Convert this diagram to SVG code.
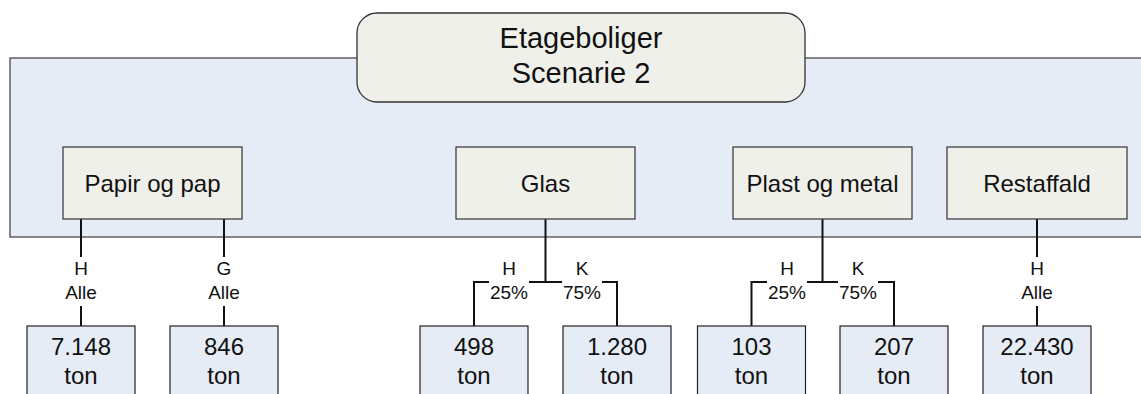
<svg xmlns="http://www.w3.org/2000/svg" width="1141" height="394" viewBox="0 0 1141 394">
<style>
text{font-family:"Liberation Sans",Arial,sans-serif;fill:#111;text-anchor:middle}
.cat{fill:#f0f0ea;stroke:#333;stroke-width:1.2}
.res{fill:#e6ecf6;stroke:#222;stroke-width:1.2}
.conn{fill:none;stroke:#111;stroke-width:2}
.lblbg{fill:#fff}
.t24{font-size:24px}
.t19{font-size:19px}
</style>
<rect width="1141" height="394" fill="#fff"/>
<g id="container">
<rect x="10" y="58" width="1140" height="179" fill="#e6ecf6" stroke="#555" stroke-width="1.4"/>
</g>
<g id="title">
<rect x="357" y="13" width="448" height="89" rx="20" ry="20" fill="#f0f0ea" stroke="#333" stroke-width="1.3"/>
<text x="581" y="48" font-size="29">Etageboliger</text>
<text x="581" y="83" font-size="29">Scenarie 2</text>
</g>
<g id="connectors">
<path class="conn" d="M81 219V326"/>
<path class="conn" d="M224 219V326"/>
<path class="conn" d="M545.5 219V282H474V326"/>
<path class="conn" d="M545.5 282H617V326"/>
<path class="conn" d="M822.5 219V282H751.5V326"/>
<path class="conn" d="M822.5 282H894V326"/>
<path class="conn" d="M1037 219V326"/>
</g>
<g id="papir">
<rect class="cat" x="63" y="147" width="179" height="72"/>
<text class="t24" x="152.5" y="192">Papir og pap</text>
</g>
<g id="glas">
<rect class="cat" x="456" y="147" width="179" height="72"/>
<text class="t24" x="545.5" y="192">Glas</text>
</g>
<g id="plast">
<rect class="cat" x="733" y="147" width="179" height="72"/>
<text class="t24" x="822.5" y="192">Plast og metal</text>
</g>
<g id="restaffald">
<rect class="cat" x="947" y="147" width="180" height="72"/>
<text class="t24" x="1037" y="192">Restaffald</text>
</g>
<g id="labels">
<rect class="lblbg" x="64" y="257" width="34" height="49"/>
<text class="t19" x="81" y="275">H</text><text class="t19" x="81" y="299">Alle</text>
<rect class="lblbg" x="207" y="257" width="34" height="49"/>
<text class="t19" x="224" y="275">G</text><text class="t19" x="224" y="299">Alle</text>
<rect class="lblbg" x="489" y="257" width="40" height="49"/>
<text class="t19" x="509" y="275">H</text><text class="t19" x="509" y="299">25%</text>
<rect class="lblbg" x="562" y="257" width="40" height="49"/>
<text class="t19" x="582" y="275">K</text><text class="t19" x="582" y="299">75%</text>
<rect class="lblbg" x="767" y="257" width="40" height="49"/>
<text class="t19" x="787" y="275">H</text><text class="t19" x="787" y="299">25%</text>
<rect class="lblbg" x="838" y="257" width="40" height="49"/>
<text class="t19" x="858" y="275">K</text><text class="t19" x="858" y="299">75%</text>
<rect class="lblbg" x="1020" y="257" width="34" height="49"/>
<text class="t19" x="1037" y="275">H</text><text class="t19" x="1037" y="299">Alle</text>
</g>
<g id="r1"><rect class="res" x="27" y="326" width="108" height="80"/><text class="t24" x="81" y="354.5">7.148</text><text class="t24" x="81" y="383.5">ton</text></g>
<g id="r2"><rect class="res" x="170" y="326" width="108" height="80"/><text class="t24" x="224" y="354.5">846</text><text class="t24" x="224" y="383.5">ton</text></g>
<g id="r3"><rect class="res" x="420" y="326" width="108" height="80"/><text class="t24" x="474" y="354.5">498</text><text class="t24" x="474" y="383.5">ton</text></g>
<g id="r4"><rect class="res" x="563" y="326" width="108" height="80"/><text class="t24" x="617" y="354.5">1.280</text><text class="t24" x="617" y="383.5">ton</text></g>
<g id="r5"><rect class="res" x="697.5" y="326" width="108" height="80"/><text class="t24" x="751.5" y="354.5">103</text><text class="t24" x="751.5" y="383.5">ton</text></g>
<g id="r6"><rect class="res" x="840" y="326" width="108" height="80"/><text class="t24" x="894" y="354.5">207</text><text class="t24" x="894" y="383.5">ton</text></g>
<g id="r7"><rect class="res" x="983" y="326" width="108" height="80"/><text class="t24" x="1037" y="354.5">22.430</text><text class="t24" x="1037" y="383.5">ton</text></g>
</svg>
